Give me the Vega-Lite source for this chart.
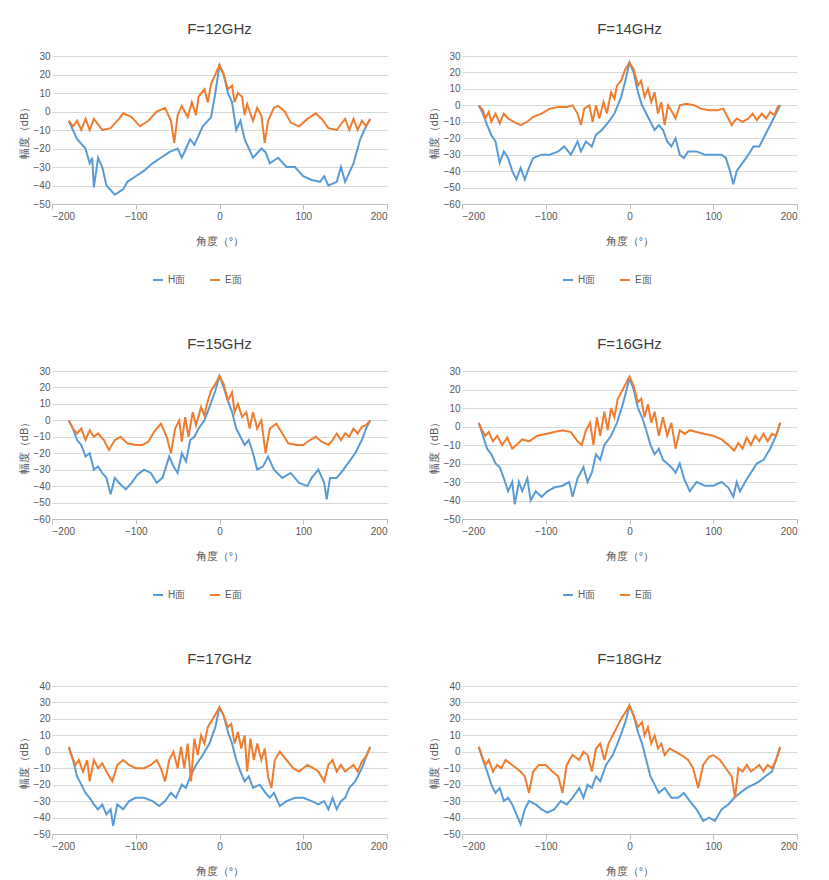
{
"$schema":"https://vega.github.io/schema/vega-lite/v6.json",
"padding":{"top":22,"left":18,"right":5,"bottom":5},
"config":{"font":"Liberation Sans","view":{"stroke":null},"title":{"fontSize":15,"fontWeight":"normal","color":"#404040","offset":14},
"axis":{"labelColor":"#595959","labelFontSize":10,"titleColor":"#595959","titleFontSize":11,"titleFontWeight":"normal","domainColor":"#bfbfbf","tickColor":"#bfbfbf","gridColor":"#d9d9d9"},
"legend":{"orient":"none","legendX":100,"legendY":218,"direction":"horizontal","labelColor":"#595959","labelFontSize":10,"symbolType":"stroke","symbolStrokeWidth":2.5,"title":null,"columnPadding":20},
"line":{"strokeWidth":2}},
"datasets":{
"p12":[
{"s":"H面","a":-180,"v":-5},{"s":"H面","a":-175,"v":-10},{"s":"H面","a":-170,"v":-15},{"s":"H面","a":-160,"v":-20},{"s":"H面","a":-155,"v":-28},{"s":"H面","a":-152,"v":-25},{"s":"H面","a":-150,"v":-41},{"s":"H面","a":-145,"v":-25},{"s":"H面","a":-140,"v":-30},{"s":"H面","a":-135,"v":-40},{"s":"H面","a":-125,"v":-45},{"s":"H面","a":-115,"v":-42},{"s":"H面","a":-110,"v":-38},{"s":"H面","a":-100,"v":-35},{"s":"H面","a":-90,"v":-32},{"s":"H面","a":-80,"v":-28},{"s":"H面","a":-70,"v":-25},{"s":"H面","a":-60,"v":-22},{"s":"H面","a":-50,"v":-20},{"s":"H面","a":-45,"v":-25},{"s":"H面","a":-35,"v":-15},{"s":"H面","a":-30,"v":-18},{"s":"H面","a":-20,"v":-8},{"s":"H面","a":-10,"v":-3},{"s":"H面","a":-5,"v":10},{"s":"H面","a":0,"v":25},{"s":"H面","a":5,"v":20},{"s":"H面","a":10,"v":10},{"s":"H面","a":15,"v":5},{"s":"H面","a":20,"v":-10},{"s":"H面","a":25,"v":-5},{"s":"H面","a":30,"v":-15},{"s":"H面","a":40,"v":-25},{"s":"H面","a":50,"v":-20},{"s":"H面","a":55,"v":-22},{"s":"H面","a":60,"v":-28},{"s":"H面","a":70,"v":-25},{"s":"H面","a":80,"v":-30},{"s":"H面","a":90,"v":-30},{"s":"H面","a":100,"v":-35},{"s":"H面","a":110,"v":-37},{"s":"H面","a":120,"v":-38},{"s":"H面","a":125,"v":-35},{"s":"H面","a":130,"v":-40},{"s":"H面","a":140,"v":-38},{"s":"H面","a":145,"v":-30},{"s":"H面","a":150,"v":-38},{"s":"H面","a":160,"v":-28},{"s":"H面","a":168,"v":-15},{"s":"H面","a":175,"v":-8},{"s":"H面","a":180,"v":-4},
{"s":"E面","a":-180,"v":-5},{"s":"E面","a":-175,"v":-8},{"s":"E面","a":-170,"v":-5},{"s":"E面","a":-165,"v":-10},{"s":"E面","a":-160,"v":-4},{"s":"E面","a":-155,"v":-10},{"s":"E面","a":-150,"v":-4},{"s":"E面","a":-140,"v":-10},{"s":"E面","a":-130,"v":-9},{"s":"E面","a":-120,"v":-4},{"s":"E面","a":-115,"v":-1},{"s":"E面","a":-105,"v":-3},{"s":"E面","a":-95,"v":-8},{"s":"E面","a":-85,"v":-5},{"s":"E面","a":-75,"v":0},{"s":"E面","a":-65,"v":2},{"s":"E面","a":-58,"v":-5},{"s":"E面","a":-54,"v":-17},{"s":"E面","a":-50,"v":-2},{"s":"E面","a":-45,"v":3},{"s":"E面","a":-38,"v":-3},{"s":"E面","a":-33,"v":5},{"s":"E面","a":-28,"v":-2},{"s":"E面","a":-25,"v":8},{"s":"E面","a":-18,"v":12},{"s":"E面","a":-14,"v":5},{"s":"E面","a":-10,"v":15},{"s":"E面","a":-5,"v":20},{"s":"E面","a":0,"v":25},{"s":"E面","a":5,"v":20},{"s":"E面","a":10,"v":12},{"s":"E面","a":15,"v":14},{"s":"E面","a":18,"v":5},{"s":"E面","a":22,"v":10},{"s":"E面","a":27,"v":8},{"s":"E面","a":30,"v":-2},{"s":"E面","a":33,"v":4},{"s":"E面","a":40,"v":-5},{"s":"E面","a":45,"v":2},{"s":"E面","a":50,"v":-2},{"s":"E面","a":54,"v":-17},{"s":"E面","a":58,"v":-5},{"s":"E面","a":65,"v":2},{"s":"E面","a":70,"v":3},{"s":"E面","a":78,"v":0},{"s":"E面","a":85,"v":-6},{"s":"E面","a":95,"v":-8},{"s":"E面","a":105,"v":-4},{"s":"E面","a":115,"v":-1},{"s":"E面","a":122,"v":-4},{"s":"E面","a":130,"v":-9},{"s":"E面","a":140,"v":-10},{"s":"E面","a":150,"v":-4},{"s":"E面","a":155,"v":-10},{"s":"E面","a":160,"v":-4},{"s":"E面","a":165,"v":-10},{"s":"E面","a":170,"v":-5},{"s":"E面","a":175,"v":-8},{"s":"E面","a":180,"v":-4}],
"p14":[
{"s":"H面","a":-180,"v":0},{"s":"H面","a":-175,"v":-5},{"s":"H面","a":-170,"v":-12},{"s":"H面","a":-165,"v":-18},{"s":"H面","a":-160,"v":-22},{"s":"H面","a":-155,"v":-35},{"s":"H面","a":-150,"v":-28},{"s":"H面","a":-145,"v":-32},{"s":"H面","a":-140,"v":-40},{"s":"H面","a":-135,"v":-45},{"s":"H面","a":-130,"v":-38},{"s":"H面","a":-125,"v":-45},{"s":"H面","a":-120,"v":-38},{"s":"H面","a":-115,"v":-32},{"s":"H面","a":-105,"v":-30},{"s":"H面","a":-95,"v":-30},{"s":"H面","a":-85,"v":-28},{"s":"H面","a":-78,"v":-25},{"s":"H面","a":-70,"v":-30},{"s":"H面","a":-62,"v":-22},{"s":"H面","a":-58,"v":-28},{"s":"H面","a":-52,"v":-22},{"s":"H面","a":-45,"v":-25},{"s":"H面","a":-40,"v":-18},{"s":"H面","a":-33,"v":-15},{"s":"H面","a":-25,"v":-10},{"s":"H面","a":-18,"v":-5},{"s":"H面","a":-10,"v":5},{"s":"H面","a":-5,"v":15},{"s":"H面","a":0,"v":26},{"s":"H面","a":5,"v":20},{"s":"H面","a":10,"v":8},{"s":"H面","a":15,"v":0},{"s":"H面","a":20,"v":-5},{"s":"H面","a":25,"v":-10},{"s":"H面","a":30,"v":-15},{"s":"H面","a":35,"v":-12},{"s":"H面","a":40,"v":-15},{"s":"H面","a":45,"v":-22},{"s":"H面","a":50,"v":-25},{"s":"H面","a":55,"v":-20},{"s":"H面","a":60,"v":-30},{"s":"H面","a":65,"v":-32},{"s":"H面","a":70,"v":-28},{"s":"H面","a":80,"v":-28},{"s":"H面","a":90,"v":-30},{"s":"H面","a":100,"v":-30},{"s":"H面","a":110,"v":-30},{"s":"H面","a":115,"v":-32},{"s":"H面","a":120,"v":-40},{"s":"H面","a":124,"v":-48},{"s":"H面","a":128,"v":-40},{"s":"H面","a":135,"v":-35},{"s":"H面","a":142,"v":-30},{"s":"H面","a":148,"v":-25},{"s":"H面","a":155,"v":-25},{"s":"H面","a":160,"v":-20},{"s":"H面","a":165,"v":-15},{"s":"H面","a":170,"v":-10},{"s":"H面","a":175,"v":-5},{"s":"H面","a":180,"v":0},
{"s":"E面","a":-180,"v":0},{"s":"E面","a":-175,"v":-3},{"s":"E面","a":-172,"v":-8},{"s":"E面","a":-168,"v":-4},{"s":"E面","a":-165,"v":-10},{"s":"E面","a":-160,"v":-5},{"s":"E面","a":-155,"v":-11},{"s":"E面","a":-150,"v":-5},{"s":"E面","a":-145,"v":-8},{"s":"E面","a":-138,"v":-10},{"s":"E面","a":-130,"v":-12},{"s":"E面","a":-122,"v":-10},{"s":"E面","a":-115,"v":-7},{"s":"E面","a":-105,"v":-5},{"s":"E面","a":-95,"v":-2},{"s":"E面","a":-85,"v":-1},{"s":"E面","a":-75,"v":-1},{"s":"E面","a":-68,"v":0},{"s":"E面","a":-62,"v":-5},{"s":"E面","a":-58,"v":-12},{"s":"E面","a":-54,"v":-2},{"s":"E面","a":-48,"v":0},{"s":"E面","a":-44,"v":-10},{"s":"E面","a":-40,"v":0},{"s":"E面","a":-36,"v":-8},{"s":"E面","a":-31,"v":2},{"s":"E面","a":-27,"v":-5},{"s":"E面","a":-22,"v":8},{"s":"E面","a":-18,"v":4},{"s":"E面","a":-15,"v":12},{"s":"E面","a":-10,"v":15},{"s":"E面","a":-5,"v":22},{"s":"E面","a":0,"v":26},{"s":"E面","a":5,"v":22},{"s":"E面","a":10,"v":12},{"s":"E面","a":14,"v":15},{"s":"E面","a":18,"v":5},{"s":"E面","a":22,"v":10},{"s":"E面","a":26,"v":2},{"s":"E面","a":30,"v":8},{"s":"E面","a":34,"v":-5},{"s":"E面","a":38,"v":2},{"s":"E面","a":42,"v":-12},{"s":"E面","a":46,"v":0},{"s":"E面","a":52,"v":-5},{"s":"E面","a":55,"v":-8},{"s":"E面","a":60,"v":0},{"s":"E面","a":68,"v":1},{"s":"E面","a":78,"v":0},{"s":"E面","a":85,"v":-2},{"s":"E面","a":95,"v":-3},{"s":"E面","a":105,"v":-3},{"s":"E面","a":112,"v":-2},{"s":"E面","a":118,"v":-8},{"s":"E面","a":122,"v":-12},{"s":"E面","a":128,"v":-8},{"s":"E面","a":135,"v":-10},{"s":"E面","a":142,"v":-8},{"s":"E面","a":147,"v":-5},{"s":"E面","a":152,"v":-9},{"s":"E面","a":158,"v":-5},{"s":"E面","a":163,"v":-8},{"s":"E面","a":168,"v":-4},{"s":"E面","a":173,"v":-6},{"s":"E面","a":177,"v":-1},{"s":"E面","a":180,"v":0}],
"p15":[
{"s":"H面","a":-180,"v":0},{"s":"H面","a":-175,"v":-5},{"s":"H面","a":-170,"v":-12},{"s":"H面","a":-165,"v":-15},{"s":"H面","a":-160,"v":-22},{"s":"H面","a":-155,"v":-20},{"s":"H面","a":-150,"v":-30},{"s":"H面","a":-145,"v":-28},{"s":"H面","a":-140,"v":-32},{"s":"H面","a":-135,"v":-35},{"s":"H面","a":-130,"v":-45},{"s":"H面","a":-125,"v":-35},{"s":"H面","a":-120,"v":-38},{"s":"H面","a":-112,"v":-42},{"s":"H面","a":-105,"v":-38},{"s":"H面","a":-98,"v":-33},{"s":"H面","a":-90,"v":-30},{"s":"H面","a":-82,"v":-32},{"s":"H面","a":-75,"v":-38},{"s":"H面","a":-68,"v":-35},{"s":"H面","a":-60,"v":-22},{"s":"H面","a":-55,"v":-28},{"s":"H面","a":-50,"v":-32},{"s":"H面","a":-45,"v":-20},{"s":"H面","a":-40,"v":-25},{"s":"H面","a":-35,"v":-12},{"s":"H面","a":-30,"v":-10},{"s":"H面","a":-25,"v":-5},{"s":"H面","a":-18,"v":0},{"s":"H面","a":-12,"v":8},{"s":"H面","a":-5,"v":18},{"s":"H面","a":0,"v":27},{"s":"H面","a":5,"v":20},{"s":"H面","a":10,"v":12},{"s":"H面","a":15,"v":5},{"s":"H面","a":20,"v":-5},{"s":"H面","a":25,"v":-10},{"s":"H面","a":30,"v":-15},{"s":"H面","a":35,"v":-12},{"s":"H面","a":40,"v":-20},{"s":"H面","a":45,"v":-30},{"s":"H面","a":52,"v":-28},{"s":"H面","a":58,"v":-22},{"s":"H面","a":65,"v":-30},{"s":"H面","a":75,"v":-35},{"s":"H面","a":85,"v":-32},{"s":"H面","a":95,"v":-38},{"s":"H面","a":105,"v":-40},{"s":"H面","a":110,"v":-35},{"s":"H面","a":118,"v":-30},{"s":"H面","a":125,"v":-38},{"s":"H面","a":128,"v":-48},{"s":"H面","a":132,"v":-35},{"s":"H面","a":140,"v":-35},{"s":"H面","a":148,"v":-30},{"s":"H面","a":155,"v":-25},{"s":"H面","a":162,"v":-20},{"s":"H面","a":170,"v":-12},{"s":"H面","a":175,"v":-5},{"s":"H面","a":180,"v":0},
{"s":"E面","a":-180,"v":0},{"s":"E面","a":-175,"v":-5},{"s":"E面","a":-170,"v":-8},{"s":"E面","a":-165,"v":-5},{"s":"E面","a":-160,"v":-12},{"s":"E面","a":-155,"v":-6},{"s":"E面","a":-150,"v":-10},{"s":"E面","a":-145,"v":-8},{"s":"E面","a":-138,"v":-12},{"s":"E面","a":-132,"v":-18},{"s":"E面","a":-125,"v":-12},{"s":"E面","a":-118,"v":-10},{"s":"E面","a":-110,"v":-14},{"s":"E面","a":-100,"v":-15},{"s":"E面","a":-92,"v":-15},{"s":"E面","a":-85,"v":-13},{"s":"E面","a":-78,"v":-7},{"s":"E面","a":-70,"v":-2},{"s":"E面","a":-63,"v":-10},{"s":"E面","a":-58,"v":-20},{"s":"E面","a":-53,"v":-5},{"s":"E面","a":-48,"v":0},{"s":"E面","a":-45,"v":-13},{"s":"E面","a":-41,"v":2},{"s":"E面","a":-37,"v":-10},{"s":"E面","a":-32,"v":5},{"s":"E面","a":-28,"v":-3},{"s":"E面","a":-22,"v":8},{"s":"E面","a":-18,"v":3},{"s":"E面","a":-15,"v":10},{"s":"E面","a":-10,"v":18},{"s":"E面","a":-5,"v":22},{"s":"E面","a":0,"v":27},{"s":"E面","a":5,"v":22},{"s":"E面","a":10,"v":12},{"s":"E面","a":15,"v":17},{"s":"E面","a":18,"v":5},{"s":"E面","a":22,"v":10},{"s":"E面","a":27,"v":2},{"s":"E面","a":32,"v":5},{"s":"E面","a":36,"v":-5},{"s":"E面","a":40,"v":5},{"s":"E面","a":45,"v":-5},{"s":"E面","a":50,"v":0},{"s":"E面","a":55,"v":-20},{"s":"E面","a":60,"v":-5},{"s":"E面","a":68,"v":-2},{"s":"E面","a":75,"v":-8},{"s":"E面","a":82,"v":-14},{"s":"E面","a":92,"v":-15},{"s":"E面","a":100,"v":-15},{"s":"E面","a":108,"v":-12},{"s":"E面","a":115,"v":-10},{"s":"E面","a":122,"v":-13},{"s":"E面","a":130,"v":-15},{"s":"E面","a":135,"v":-12},{"s":"E面","a":140,"v":-8},{"s":"E面","a":145,"v":-12},{"s":"E面","a":150,"v":-8},{"s":"E面","a":155,"v":-10},{"s":"E面","a":160,"v":-5},{"s":"E面","a":165,"v":-8},{"s":"E面","a":170,"v":-4},{"s":"E面","a":175,"v":-3},{"s":"E面","a":180,"v":0}],
"p16":[
{"s":"H面","a":-180,"v":2},{"s":"H面","a":-175,"v":-5},{"s":"H面","a":-170,"v":-12},{"s":"H面","a":-165,"v":-15},{"s":"H面","a":-160,"v":-20},{"s":"H面","a":-155,"v":-22},{"s":"H面","a":-150,"v":-28},{"s":"H面","a":-145,"v":-35},{"s":"H面","a":-140,"v":-30},{"s":"H面","a":-137,"v":-42},{"s":"H面","a":-132,"v":-30},{"s":"H面","a":-128,"v":-35},{"s":"H面","a":-122,"v":-28},{"s":"H面","a":-118,"v":-40},{"s":"H面","a":-112,"v":-35},{"s":"H面","a":-105,"v":-38},{"s":"H面","a":-98,"v":-35},{"s":"H面","a":-90,"v":-33},{"s":"H面","a":-80,"v":-32},{"s":"H面","a":-72,"v":-30},{"s":"H面","a":-68,"v":-38},{"s":"H面","a":-62,"v":-28},{"s":"H面","a":-55,"v":-22},{"s":"H面","a":-50,"v":-30},{"s":"H面","a":-45,"v":-25},{"s":"H面","a":-40,"v":-15},{"s":"H面","a":-35,"v":-18},{"s":"H面","a":-30,"v":-10},{"s":"H面","a":-22,"v":-5},{"s":"H面","a":-15,"v":2},{"s":"H面","a":-8,"v":12},{"s":"H面","a":0,"v":26},{"s":"H面","a":5,"v":20},{"s":"H面","a":10,"v":10},{"s":"H面","a":15,"v":5},{"s":"H面","a":20,"v":-2},{"s":"H面","a":25,"v":-10},{"s":"H面","a":30,"v":-15},{"s":"H面","a":35,"v":-12},{"s":"H面","a":40,"v":-18},{"s":"H面","a":45,"v":-20},{"s":"H面","a":50,"v":-22},{"s":"H面","a":55,"v":-25},{"s":"H面","a":60,"v":-20},{"s":"H面","a":65,"v":-28},{"s":"H面","a":72,"v":-35},{"s":"H面","a":80,"v":-30},{"s":"H面","a":90,"v":-32},{"s":"H面","a":100,"v":-32},{"s":"H面","a":110,"v":-30},{"s":"H面","a":118,"v":-33},{"s":"H面","a":124,"v":-38},{"s":"H面","a":128,"v":-30},{"s":"H面","a":132,"v":-35},{"s":"H面","a":138,"v":-30},{"s":"H面","a":145,"v":-25},{"s":"H面","a":152,"v":-20},{"s":"H面","a":160,"v":-18},{"s":"H面","a":168,"v":-12},{"s":"H面","a":175,"v":-5},{"s":"H面","a":180,"v":2},
{"s":"E面","a":-180,"v":2},{"s":"E面","a":-176,"v":-2},{"s":"E面","a":-172,"v":-5},{"s":"E面","a":-168,"v":-3},{"s":"E面","a":-163,"v":-8},{"s":"E面","a":-158,"v":-5},{"s":"E面","a":-152,"v":-10},{"s":"E面","a":-146,"v":-6},{"s":"E面","a":-140,"v":-12},{"s":"E面","a":-135,"v":-10},{"s":"E面","a":-128,"v":-7},{"s":"E面","a":-120,"v":-8},{"s":"E面","a":-110,"v":-5},{"s":"E面","a":-100,"v":-4},{"s":"E面","a":-90,"v":-3},{"s":"E面","a":-80,"v":-2},{"s":"E面","a":-70,"v":-3},{"s":"E面","a":-62,"v":-8},{"s":"E面","a":-57,"v":-10},{"s":"E面","a":-52,"v":-2},{"s":"E面","a":-47,"v":2},{"s":"E面","a":-43,"v":-10},{"s":"E面","a":-39,"v":5},{"s":"E面","a":-35,"v":-5},{"s":"E面","a":-30,"v":8},{"s":"E面","a":-26,"v":-2},{"s":"E面","a":-22,"v":10},{"s":"E面","a":-18,"v":5},{"s":"E面","a":-14,"v":15},{"s":"E面","a":-8,"v":20},{"s":"E面","a":0,"v":27},{"s":"E面","a":5,"v":22},{"s":"E面","a":10,"v":13},{"s":"E面","a":14,"v":15},{"s":"E面","a":18,"v":5},{"s":"E面","a":22,"v":12},{"s":"E面","a":26,"v":2},{"s":"E面","a":30,"v":8},{"s":"E面","a":35,"v":-5},{"s":"E面","a":40,"v":5},{"s":"E面","a":45,"v":-5},{"s":"E面","a":50,"v":2},{"s":"E面","a":55,"v":-12},{"s":"E面","a":60,"v":-2},{"s":"E面","a":66,"v":-4},{"s":"E面","a":72,"v":-2},{"s":"E面","a":80,"v":-3},{"s":"E面","a":90,"v":-4},{"s":"E面","a":100,"v":-5},{"s":"E面","a":110,"v":-7},{"s":"E面","a":118,"v":-10},{"s":"E面","a":125,"v":-13},{"s":"E面","a":130,"v":-9},{"s":"E面","a":135,"v":-12},{"s":"E面","a":140,"v":-6},{"s":"E面","a":145,"v":-10},{"s":"E面","a":150,"v":-5},{"s":"E面","a":155,"v":-8},{"s":"E面","a":160,"v":-4},{"s":"E面","a":165,"v":-8},{"s":"E面","a":170,"v":-4},{"s":"E面","a":175,"v":-5},{"s":"E面","a":180,"v":2}],
"p17":[
{"s":"H面","a":-180,"v":3},{"s":"H面","a":-175,"v":-5},{"s":"H面","a":-170,"v":-15},{"s":"H面","a":-165,"v":-20},{"s":"H面","a":-160,"v":-25},{"s":"H面","a":-155,"v":-28},{"s":"H面","a":-150,"v":-32},{"s":"H面","a":-145,"v":-35},{"s":"H面","a":-140,"v":-32},{"s":"H面","a":-135,"v":-38},{"s":"H面","a":-130,"v":-35},{"s":"H面","a":-127,"v":-45},{"s":"H面","a":-122,"v":-32},{"s":"H面","a":-115,"v":-35},{"s":"H面","a":-108,"v":-30},{"s":"H面","a":-100,"v":-28},{"s":"H面","a":-90,"v":-28},{"s":"H面","a":-80,"v":-30},{"s":"H面","a":-72,"v":-33},{"s":"H面","a":-65,"v":-30},{"s":"H面","a":-58,"v":-25},{"s":"H面","a":-52,"v":-28},{"s":"H面","a":-45,"v":-20},{"s":"H面","a":-40,"v":-22},{"s":"H面","a":-35,"v":-15},{"s":"H面","a":-28,"v":-8},{"s":"H面","a":-20,"v":-2},{"s":"H面","a":-12,"v":5},{"s":"H面","a":-5,"v":15},{"s":"H面","a":0,"v":27},{"s":"H面","a":5,"v":22},{"s":"H面","a":10,"v":12},{"s":"H面","a":15,"v":5},{"s":"H面","a":20,"v":-5},{"s":"H面","a":25,"v":-12},{"s":"H面","a":30,"v":-18},{"s":"H面","a":35,"v":-15},{"s":"H面","a":40,"v":-22},{"s":"H面","a":48,"v":-20},{"s":"H面","a":55,"v":-25},{"s":"H面","a":60,"v":-28},{"s":"H面","a":65,"v":-25},{"s":"H面","a":72,"v":-33},{"s":"H面","a":80,"v":-30},{"s":"H面","a":90,"v":-28},{"s":"H面","a":100,"v":-28},{"s":"H面","a":110,"v":-30},{"s":"H面","a":118,"v":-32},{"s":"H面","a":125,"v":-30},{"s":"H面","a":130,"v":-35},{"s":"H面","a":135,"v":-28},{"s":"H面","a":140,"v":-35},{"s":"H面","a":145,"v":-30},{"s":"H面","a":150,"v":-28},{"s":"H面","a":155,"v":-22},{"s":"H面","a":162,"v":-18},{"s":"H面","a":170,"v":-10},{"s":"H面","a":175,"v":-3},{"s":"H面","a":180,"v":3},
{"s":"E面","a":-180,"v":3},{"s":"E面","a":-176,"v":-3},{"s":"E面","a":-172,"v":-8},{"s":"E面","a":-168,"v":-5},{"s":"E面","a":-163,"v":-12},{"s":"E面","a":-158,"v":-5},{"s":"E面","a":-155,"v":-18},{"s":"E面","a":-150,"v":-5},{"s":"E面","a":-145,"v":-10},{"s":"E面","a":-140,"v":-7},{"s":"E面","a":-135,"v":-12},{"s":"E面","a":-128,"v":-18},{"s":"E面","a":-122,"v":-8},{"s":"E面","a":-115,"v":-5},{"s":"E面","a":-108,"v":-8},{"s":"E面","a":-100,"v":-10},{"s":"E面","a":-90,"v":-10},{"s":"E面","a":-82,"v":-8},{"s":"E面","a":-75,"v":-5},{"s":"E面","a":-70,"v":-10},{"s":"E面","a":-65,"v":-18},{"s":"E面","a":-60,"v":-5},{"s":"E面","a":-55,"v":0},{"s":"E面","a":-50,"v":-10},{"s":"E面","a":-46,"v":3},{"s":"E面","a":-42,"v":-10},{"s":"E面","a":-38,"v":5},{"s":"E面","a":-34,"v":-18},{"s":"E面","a":-30,"v":8},{"s":"E面","a":-26,"v":-2},{"s":"E面","a":-22,"v":10},{"s":"E面","a":-18,"v":5},{"s":"E面","a":-14,"v":15},{"s":"E面","a":-8,"v":20},{"s":"E面","a":0,"v":27},{"s":"E面","a":5,"v":22},{"s":"E面","a":10,"v":15},{"s":"E面","a":14,"v":17},{"s":"E面","a":18,"v":5},{"s":"E面","a":22,"v":12},{"s":"E面","a":26,"v":2},{"s":"E面","a":30,"v":10},{"s":"E面","a":33,"v":-12},{"s":"E面","a":37,"v":8},{"s":"E面","a":41,"v":-5},{"s":"E面","a":45,"v":5},{"s":"E面","a":50,"v":-5},{"s":"E面","a":54,"v":2},{"s":"E面","a":58,"v":-15},{"s":"E面","a":62,"v":-22},{"s":"E面","a":66,"v":-5},{"s":"E面","a":72,"v":0},{"s":"E面","a":80,"v":-5},{"s":"E面","a":88,"v":-10},{"s":"E面","a":95,"v":-12},{"s":"E面","a":105,"v":-8},{"s":"E面","a":112,"v":-10},{"s":"E面","a":118,"v":-12},{"s":"E面","a":125,"v":-18},{"s":"E面","a":130,"v":-8},{"s":"E面","a":135,"v":-5},{"s":"E面","a":140,"v":-12},{"s":"E面","a":145,"v":-8},{"s":"E面","a":150,"v":-12},{"s":"E面","a":155,"v":-10},{"s":"E面","a":160,"v":-8},{"s":"E面","a":165,"v":-12},{"s":"E面","a":170,"v":-6},{"s":"E面","a":175,"v":-3},{"s":"E面","a":180,"v":3}],
"p18":[
{"s":"H面","a":-180,"v":3},{"s":"H面","a":-175,"v":-5},{"s":"H面","a":-170,"v":-12},{"s":"H面","a":-165,"v":-20},{"s":"H面","a":-160,"v":-25},{"s":"H面","a":-155,"v":-22},{"s":"H面","a":-150,"v":-30},{"s":"H面","a":-145,"v":-28},{"s":"H面","a":-140,"v":-32},{"s":"H面","a":-135,"v":-38},{"s":"H面","a":-130,"v":-44},{"s":"H面","a":-125,"v":-35},{"s":"H面","a":-120,"v":-30},{"s":"H面","a":-112,"v":-32},{"s":"H面","a":-105,"v":-35},{"s":"H面","a":-98,"v":-37},{"s":"H面","a":-90,"v":-35},{"s":"H面","a":-82,"v":-30},{"s":"H面","a":-75,"v":-32},{"s":"H面","a":-68,"v":-28},{"s":"H面","a":-60,"v":-22},{"s":"H面","a":-55,"v":-28},{"s":"H面","a":-50,"v":-20},{"s":"H面","a":-45,"v":-22},{"s":"H面","a":-40,"v":-15},{"s":"H面","a":-35,"v":-18},{"s":"H面","a":-28,"v":-8},{"s":"H面","a":-20,"v":-2},{"s":"H面","a":-12,"v":8},{"s":"H面","a":-5,"v":18},{"s":"H面","a":0,"v":28},{"s":"H面","a":5,"v":22},{"s":"H面","a":10,"v":12},{"s":"H面","a":15,"v":5},{"s":"H面","a":20,"v":-5},{"s":"H面","a":25,"v":-15},{"s":"H面","a":30,"v":-20},{"s":"H面","a":35,"v":-25},{"s":"H面","a":42,"v":-22},{"s":"H面","a":50,"v":-28},{"s":"H面","a":58,"v":-28},{"s":"H面","a":65,"v":-25},{"s":"H面","a":72,"v":-30},{"s":"H面","a":80,"v":-35},{"s":"H面","a":88,"v":-42},{"s":"H面","a":95,"v":-40},{"s":"H面","a":102,"v":-42},{"s":"H面","a":110,"v":-35},{"s":"H面","a":118,"v":-32},{"s":"H面","a":125,"v":-28},{"s":"H面","a":132,"v":-25},{"s":"H面","a":140,"v":-22},{"s":"H面","a":148,"v":-20},{"s":"H面","a":155,"v":-18},{"s":"H面","a":162,"v":-15},{"s":"H面","a":170,"v":-12},{"s":"H面","a":175,"v":-5},{"s":"H面","a":180,"v":3},
{"s":"E面","a":-180,"v":3},{"s":"E面","a":-176,"v":-3},{"s":"E面","a":-172,"v":-8},{"s":"E面","a":-168,"v":-5},{"s":"E面","a":-163,"v":-12},{"s":"E面","a":-158,"v":-8},{"s":"E面","a":-153,"v":-10},{"s":"E面","a":-148,"v":-5},{"s":"E面","a":-140,"v":-8},{"s":"E面","a":-135,"v":-10},{"s":"E面","a":-130,"v":-12},{"s":"E面","a":-125,"v":-15},{"s":"E面","a":-120,"v":-25},{"s":"E面","a":-115,"v":-12},{"s":"E面","a":-108,"v":-8},{"s":"E面","a":-100,"v":-8},{"s":"E面","a":-92,"v":-12},{"s":"E面","a":-85,"v":-15},{"s":"E面","a":-80,"v":-25},{"s":"E面","a":-75,"v":-8},{"s":"E面","a":-68,"v":-2},{"s":"E面","a":-60,"v":-5},{"s":"E面","a":-55,"v":0},{"s":"E面","a":-50,"v":-2},{"s":"E面","a":-45,"v":-12},{"s":"E面","a":-40,"v":2},{"s":"E面","a":-35,"v":5},{"s":"E面","a":-30,"v":-5},{"s":"E面","a":-25,"v":5},{"s":"E面","a":-20,"v":10},{"s":"E面","a":-15,"v":15},{"s":"E面","a":-10,"v":20},{"s":"E面","a":0,"v":28},{"s":"E面","a":5,"v":22},{"s":"E面","a":10,"v":15},{"s":"E面","a":15,"v":18},{"s":"E面","a":18,"v":10},{"s":"E面","a":22,"v":15},{"s":"E面","a":26,"v":5},{"s":"E面","a":30,"v":10},{"s":"E面","a":34,"v":2},{"s":"E面","a":38,"v":5},{"s":"E面","a":42,"v":-2},{"s":"E面","a":48,"v":2},{"s":"E面","a":55,"v":0},{"s":"E面","a":62,"v":-2},{"s":"E面","a":70,"v":-5},{"s":"E面","a":76,"v":-10},{"s":"E面","a":82,"v":-22},{"s":"E面","a":88,"v":-8},{"s":"E面","a":95,"v":-3},{"s":"E面","a":100,"v":-2},{"s":"E面","a":108,"v":-5},{"s":"E面","a":115,"v":-10},{"s":"E面","a":122,"v":-15},{"s":"E面","a":126,"v":-28},{"s":"E面","a":130,"v":-10},{"s":"E面","a":135,"v":-12},{"s":"E面","a":140,"v":-8},{"s":"E面","a":145,"v":-12},{"s":"E面","a":150,"v":-10},{"s":"E面","a":155,"v":-8},{"s":"E面","a":160,"v":-12},{"s":"E面","a":165,"v":-8},{"s":"E面","a":170,"v":-10},{"s":"E面","a":175,"v":-5},{"s":"E面","a":180,"v":3}]
},
"resolve":{"legend":{"color":"independent"},"scale":{"y":"independent","color":"independent"}},
"columns":2,
"spacing":{"row":52,"column":40},
"concat":[
{"title":"F=12GHz","data":{"name":"p12"},"width":335,"height":148,"mark":"line","encoding":{"x":{"field":"a","type":"quantitative","scale":{"domain":[-200,200]},"axis":{"title":"角度（°）","grid":false,"tickCount":4,"titlePadding":14}},"y":{"field":"v","type":"quantitative","scale":{"domain":[-50,30]},"axis":{"title":"幅度（dB）","tickCount":8,"domain":false,"ticks":false}},"color":{"field":"s","type":"nominal","scale":{"domain":["H面","E面"],"range":["#5B9BD5","#ED7D31"]}}}},
{"title":"F=14GHz","data":{"name":"p14"},"width":335,"height":148,"mark":"line","encoding":{"x":{"field":"a","type":"quantitative","scale":{"domain":[-200,200]},"axis":{"title":"角度（°）","grid":false,"tickCount":4,"titlePadding":14}},"y":{"field":"v","type":"quantitative","scale":{"domain":[-60,30]},"axis":{"title":"幅度（dB）","tickCount":9,"domain":false,"ticks":false}},"color":{"field":"s","type":"nominal","scale":{"domain":["H面","E面"],"range":["#5B9BD5","#ED7D31"]}}}},
{"title":"F=15GHz","data":{"name":"p15"},"width":335,"height":148,"mark":"line","encoding":{"x":{"field":"a","type":"quantitative","scale":{"domain":[-200,200]},"axis":{"title":"角度（°）","grid":false,"tickCount":4,"titlePadding":14}},"y":{"field":"v","type":"quantitative","scale":{"domain":[-60,30]},"axis":{"title":"幅度（dB）","tickCount":9,"domain":false,"ticks":false}},"color":{"field":"s","type":"nominal","scale":{"domain":["H面","E面"],"range":["#5B9BD5","#ED7D31"]}}}},
{"title":"F=16GHz","data":{"name":"p16"},"width":335,"height":148,"mark":"line","encoding":{"x":{"field":"a","type":"quantitative","scale":{"domain":[-200,200]},"axis":{"title":"角度（°）","grid":false,"tickCount":4,"titlePadding":14}},"y":{"field":"v","type":"quantitative","scale":{"domain":[-50,30]},"axis":{"title":"幅度（dB）","tickCount":8,"domain":false,"ticks":false}},"color":{"field":"s","type":"nominal","scale":{"domain":["H面","E面"],"range":["#5B9BD5","#ED7D31"]}}}},
{"title":"F=17GHz","data":{"name":"p17"},"width":335,"height":148,"mark":"line","encoding":{"x":{"field":"a","type":"quantitative","scale":{"domain":[-200,200]},"axis":{"title":"角度（°）","grid":false,"tickCount":4,"titlePadding":14}},"y":{"field":"v","type":"quantitative","scale":{"domain":[-50,40]},"axis":{"title":"幅度（dB）","tickCount":9,"domain":false,"ticks":false}},"color":{"field":"s","type":"nominal","scale":{"domain":["H面","E面"],"range":["#5B9BD5","#ED7D31"]}}}},
{"title":"F=18GHz","data":{"name":"p18"},"width":335,"height":148,"mark":"line","encoding":{"x":{"field":"a","type":"quantitative","scale":{"domain":[-200,200]},"axis":{"title":"角度（°）","grid":false,"tickCount":4,"titlePadding":14}},"y":{"field":"v","type":"quantitative","scale":{"domain":[-50,40]},"axis":{"title":"幅度（dB）","tickCount":9,"domain":false,"ticks":false}},"color":{"field":"s","type":"nominal","scale":{"domain":["H面","E面"],"range":["#5B9BD5","#ED7D31"]}}}}
]
}
